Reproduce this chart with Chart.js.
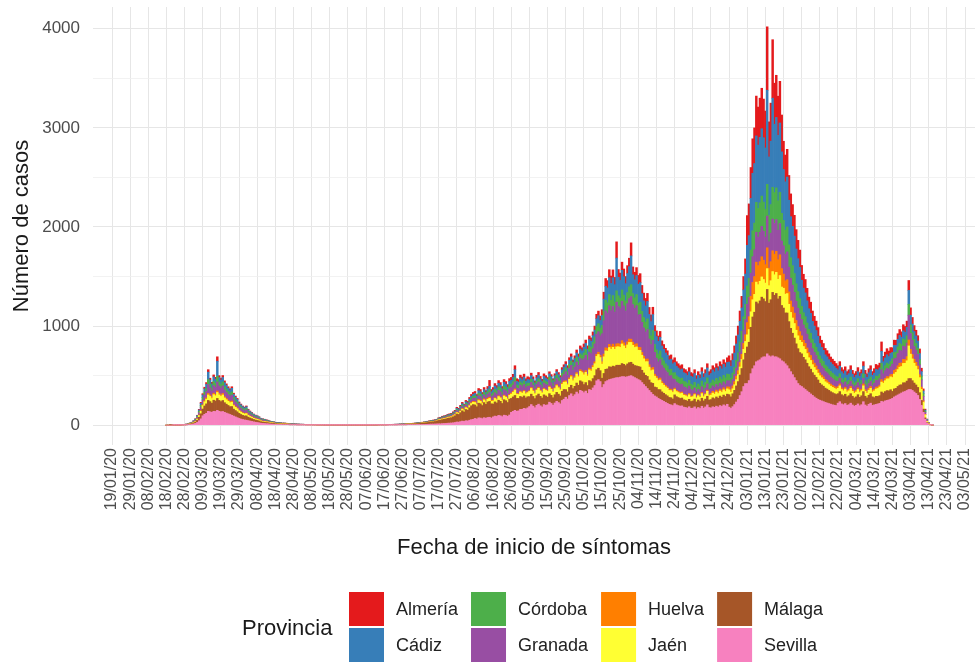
<!DOCTYPE html>
<html>
<head>
<meta charset="utf-8">
<script src="https://cdn.jsdelivr.net/npm/chart.js@4/dist/chart.umd.min.js"></script>
<style>
  html, body { margin: 0; padding: 0; background: #fff; }
  #chart { display: block; }
</style>
</head>
<body>
<canvas id="chart" width="975" height="662" style="width:975px;height:662px"></canvas>
<script>
// Axis range and tick labels (one every 10 days)
const firstDay = '09/01/20';
const lastDay = '08/05/21';
const dataStart = '18/02/20';
const tickLabels = [
    '19/01/20','29/01/20','08/02/20','18/02/20','28/02/20','09/03/20','19/03/20','29/03/20','08/04/20','18/04/20',
    '28/04/20','08/05/20','18/05/20','28/05/20','07/06/20','17/06/20','27/06/20','07/07/20','17/07/20','27/07/20',
    '06/08/20','16/08/20','26/08/20','05/09/20','15/09/20','25/09/20','05/10/20','15/10/20','25/10/20','04/11/20',
    '14/11/20','24/11/20','04/12/20','14/12/20','24/12/20','03/01/21','13/01/21','23/01/21','02/02/21','12/02/21',
    '22/02/21','04/03/21','14/03/21','24/03/21','03/04/21','13/04/21','23/04/21','03/05/21'
];
const yTicks = [0, 500, 1000, 1500, 2000, 2500, 3000, 3500, 4000];

// Daily cases by symptom onset, one row = 10 days starting 18/02/20
const sevilla = [
    0,0,0,0,1,1,1,1,2,2,
    2,3,5,6,9,13,18,28,45,64,
    95,110,120,140,135,130,140,138,150,140,
    135,138,130,122,115,108,100,92,84,76,
    68,62,57,53,50,46,42,38,34,30,
    27,24,20,18,17,15,14,12,11,10,
    8,8,7,7,6,6,6,5,4,4,
    4,4,3,3,3,3,3,2,2,2,
    2,2,2,2,1,2,1,1,1,1,
    1,1,1,1,1,1,1,1,1,1,
    1,1,1,1,1,1,1,1,1,1,
    1,1,1,1,1,2,2,2,2,2,
    2,2,2,3,3,3,3,3,4,4,
    4,4,4,5,5,5,6,6,7,7,
    6,7,7,8,9,10,11,11,12,13,
    14,14,16,17,18,20,21,22,24,27,
    32,31,36,41,38,45,43,50,56,59,
    68,62,74,72,66,76,70,78,80,72,
    84,92,88,99,95,86,101,97,90,103,
    130,140,150,140,145,160,160,170,165,175,
    188,208,192,176,200,212,196,184,208,200,
    206,232,219,202,224,241,228,215,249,262,
    282,264,299,317,290,308,334,317,352,343,
    328,344,320,360,352,376,400,448,460,440,
    380,410,440,450,460,465,470,475,480,480,
    485,490,490,485,490,495,500,490,480,470,
    460,450,430,410,390,370,350,330,310,295,
    285,270,260,250,240,230,220,210,205,198,
    218,205,198,192,195,182,179,173,186,170,
    172,185,165,178,168,191,172,185,205,178,
    174,186,180,192,183,198,189,205,195,211,
    182,169,187,208,234,260,299,338,390,420,
    420,450,520,570,600,640,650,660,680,690,
    690,720,700,690,700,690,690,680,670,650,
    640,620,600,570,540,510,480,450,420,400,
    390,375,360,345,330,315,300,285,272,260,
    252,245,238,230,224,218,212,206,202,198,
    222,237,215,207,218,200,207,222,204,192,
    200,215,196,207,237,204,192,211,222,200,
    205,210,215,220,240,235,245,250,255,262,
    270,285,295,305,315,325,335,340,350,360,
    360,350,335,320,300,260,200,130,60,22,
    8,3,1
];
const malaga = [
    0,0,1,0,0,1,1,1,1,2,
    2,3,3,5,7,10,14,22,35,51,
    68,84,95,110,103,92,112,106,120,110,
    103,111,97,90,84,79,88,70,64,59,
    51,46,42,40,44,35,31,28,24,22,
    21,19,15,14,13,12,11,9,8,8,
    7,6,6,5,5,5,4,4,4,3,
    3,3,3,3,2,2,2,2,2,2,
    2,2,1,1,1,1,1,1,1,1,
    1,1,1,1,1,1,1,1,1,1,
    1,1,1,0,1,1,0,1,1,0,
    1,1,1,1,1,1,1,2,2,2,
    2,2,3,3,3,3,4,4,4,5,
    5,5,6,6,6,7,7,8,9,10,
    13,13,15,16,18,20,22,23,25,27,
    34,36,40,43,45,50,52,54,61,68,
    81,77,90,104,95,113,108,126,140,149,
    136,124,148,144,132,152,140,156,160,144,
    129,143,136,153,146,133,156,150,139,160,
    140,145,150,130,125,130,120,125,110,112,
    100,105,98,92,98,102,95,90,98,95,
    77,86,82,75,83,90,85,80,93,98,
    77,72,82,86,79,84,91,86,96,94,
    82,86,80,90,88,94,100,112,115,110,
    94,112,124,118,130,120,126,116,125,125,
    120,132,124,116,128,136,135,126,122,128,
    133,137,124,117,113,122,106,99,112,90,
    95,90,98,86,82,78,76,70,72,66,
    88,83,81,78,79,74,73,70,75,69,
    73,78,70,76,71,81,73,78,87,76,
    84,90,87,93,89,96,92,99,95,102,
    126,117,130,144,162,180,207,234,270,306,
    369,387,468,522,540,603,576,594,612,585,
    558,650,531,576,640,621,639,594,630,558,
    542,513,532,475,437,418,399,371,352,333,
    330,310,300,280,260,250,230,220,210,196,
    171,162,155,144,140,133,126,122,117,112,
    96,102,93,90,94,86,90,96,88,83,
    86,93,85,90,102,88,83,91,96,86,
    73,81,75,78,95,88,94,99,91,96,
    71,81,77,86,90,83,93,88,95,110,
    111,99,90,86,81,68,50,32,14,5,
    2,1,0
];
const jaen = [
    0,0,0,0,0,0,0,0,0,0,
    1,1,2,2,3,5,7,11,18,25,
    34,42,47,55,52,46,56,53,60,55,
    52,56,48,45,42,40,44,35,32,30,
    25,23,21,20,22,18,15,14,12,11,
    10,9,8,7,7,6,6,5,4,4,
    3,3,3,3,2,2,2,2,2,2,
    2,1,1,1,1,1,1,1,1,1,
    1,0,1,0,1,0,1,0,1,0,
    0,0,0,0,0,0,0,0,0,0,
    0,0,0,0,0,0,0,0,0,0,
    0,0,0,0,0,0,0,0,0,0,
    0,0,0,0,0,0,0,0,0,0,
    0,0,1,1,1,1,1,1,1,1,
    1,2,2,2,2,2,2,3,3,3,
    5,6,6,7,7,8,8,8,9,10,
    13,12,14,16,15,18,17,20,22,23,
    24,22,26,25,23,27,25,27,30,25,
    30,34,32,36,34,31,37,35,33,38,
    43,47,54,41,39,44,42,45,40,41,
    52,57,53,48,55,58,54,51,57,55,
    58,65,61,56,62,67,64,60,70,73,
    77,72,82,86,79,84,91,86,96,94,
    98,103,96,108,106,113,120,134,138,132,
    142,168,186,178,194,180,190,174,185,187,
    180,198,186,174,192,204,200,190,182,192,
    163,167,152,143,138,149,130,121,136,110,
    95,90,98,86,82,78,76,70,72,66,
    54,51,50,48,49,46,45,43,46,42,
    42,45,40,43,41,46,42,45,50,43,
    45,48,46,50,47,51,49,53,50,54,
    49,46,50,56,63,70,81,91,105,119,
    123,129,156,174,180,201,192,198,204,195,
    186,210,177,192,210,207,213,198,210,186,
    200,189,196,175,161,154,147,137,130,123,
    116,109,105,98,91,88,81,77,74,69,
    76,72,69,64,62,59,56,54,52,50,
    54,58,52,50,53,49,50,54,50,47,
    49,52,48,50,58,50,47,51,54,49,
    67,74,80,88,100,100,110,118,122,130,
    140,150,160,170,180,184,195,196,205,330,
    246,220,200,190,180,152,112,70,30,12,
    5,2,0
];
const huelva = [
    0,0,0,0,0,0,0,0,0,0,
    0,0,0,1,1,1,2,3,5,7,
    9,11,13,15,14,13,15,14,15,15,
    14,15,13,12,11,11,12,10,9,8,
    7,6,6,5,6,5,4,4,3,3,
    3,3,2,2,2,2,1,1,1,1,
    1,1,1,1,1,1,1,0,0,0,
    0,0,0,0,0,0,0,0,0,0,
    0,0,0,0,0,0,0,0,0,0,
    0,0,0,0,0,0,0,0,0,0,
    0,0,0,0,0,0,0,0,0,0,
    0,0,0,0,0,0,0,0,0,0,
    0,0,0,0,0,0,0,0,0,0,
    0,0,0,0,0,0,0,0,0,1,
    1,1,1,1,1,1,1,1,1,1,
    2,2,3,3,3,3,3,4,4,5,
    5,5,6,7,6,8,7,8,9,10,
    10,9,11,11,10,11,11,12,13,11,
    8,8,8,9,9,8,9,9,8,9,
    10,10,12,9,9,10,9,10,9,9,
    9,10,10,9,10,11,10,9,10,10,
    10,11,10,9,10,11,11,10,12,12,
    13,12,14,14,13,14,15,14,16,16,
    16,17,16,18,18,19,20,22,23,22,
    24,28,31,30,32,30,32,29,31,31,
    30,33,31,29,32,34,33,32,30,32,
    30,30,28,26,25,27,24,22,25,20,
    19,18,20,17,16,16,15,14,14,13,
    14,13,12,12,12,11,11,11,12,11,
    10,11,10,11,10,12,10,11,12,11,
    17,18,17,19,18,19,18,20,19,20,
    28,26,29,32,36,40,46,52,60,68,
    123,129,156,174,180,201,192,198,204,195,
    186,210,177,192,210,207,213,198,210,186,
    143,135,140,125,115,110,105,98,93,88,
    66,62,60,56,52,50,46,44,42,39,
    29,27,26,24,23,22,21,20,20,19,
    18,19,17,17,18,16,17,18,17,16,
    16,17,16,17,19,17,16,17,18,16,
    17,19,17,18,25,20,22,23,21,22,
    32,36,34,38,40,37,41,39,42,60,
    49,44,40,38,36,30,22,14,6,2,
    1,0,0
];
const granada = [
    0,0,0,1,1,0,1,1,1,1,
    1,2,3,4,5,7,10,15,24,35,
    47,57,65,90,71,63,77,72,90,75,
    70,76,66,62,57,54,60,48,44,40,
    35,32,29,27,30,24,21,19,17,15,
    14,13,10,10,9,8,8,6,6,5,
    5,4,4,4,3,4,3,3,2,2,
    2,2,2,2,2,2,1,1,1,1,
    1,1,1,1,1,1,1,1,0,1,
    1,1,0,1,0,1,0,0,1,0,
    0,1,0,0,1,0,0,0,0,1,
    0,0,0,1,0,0,1,0,1,0,
    1,1,1,1,1,1,1,1,1,1,
    1,2,1,2,2,2,2,2,2,2,
    2,2,3,3,3,4,4,4,5,5,
    7,7,8,9,9,10,10,11,12,14,
    16,15,18,21,19,22,22,25,28,30,
    34,31,37,36,33,38,35,39,45,36,
    46,50,48,54,52,47,55,53,49,56,
    58,62,72,54,52,59,56,60,53,55,
    47,52,48,44,50,53,49,46,52,50,
    53,59,56,52,57,62,58,55,64,67,
    90,84,95,101,92,98,106,101,112,109,
    148,155,144,162,158,169,180,202,207,198,
    283,336,372,355,389,360,379,348,420,374,
    360,396,372,348,384,408,430,379,365,384,
    326,334,304,286,275,297,260,242,273,220,
    181,171,186,163,156,148,144,133,137,125,
    88,83,81,78,79,74,73,70,75,69,
    52,56,50,54,51,58,52,56,62,54,
    50,54,52,56,53,58,55,59,57,61,
    63,59,65,72,81,90,104,117,135,153,
    185,194,234,261,270,302,288,297,306,293,
    279,320,266,288,320,311,320,297,315,279,
    285,270,280,250,230,220,210,195,185,175,
    165,155,150,140,130,125,115,110,105,98,
    95,90,86,80,78,74,70,68,65,62,
    54,58,52,50,53,49,50,54,50,47,
    49,52,48,50,58,50,47,51,54,49,
    62,68,64,66,100,75,79,84,77,81,
    103,117,111,124,130,120,134,127,137,250,
    160,143,130,124,117,99,73,46,20,8,
    3,1,1
];
const cordoba = [
    0,0,0,0,0,0,0,0,1,0,
    1,1,1,2,2,4,5,8,13,18,
    25,30,34,50,38,34,41,38,60,40,
    38,40,35,33,30,29,32,26,23,22,
    18,17,15,14,16,13,11,10,9,8,
    8,7,6,5,5,4,4,3,3,3,
    2,2,2,2,2,2,2,1,1,1,
    1,1,1,1,1,1,1,1,1,0,
    0,1,0,1,0,1,0,0,1,0,
    0,0,1,0,0,0,1,0,0,0,
    0,0,0,1,0,0,1,0,0,0,
    0,0,1,0,1,0,0,1,0,1,
    0,1,0,1,0,1,1,1,1,1,
    1,1,1,1,1,1,1,2,2,2,
    2,2,2,2,2,3,3,3,3,4,
    5,5,5,6,6,7,7,7,8,9,
    11,10,12,14,13,15,14,17,19,20,
    24,22,26,25,23,27,25,27,32,25,
    30,34,32,36,34,31,37,35,33,38,
    34,36,42,32,30,34,33,35,31,32,
    28,31,29,26,30,32,29,28,31,30,
    29,32,31,28,31,34,32,30,35,37,
    38,36,41,43,40,42,46,43,48,47,
    57,60,56,63,62,66,70,78,81,77,
    83,98,109,104,113,105,111,102,115,109,
    105,116,109,102,112,119,120,111,106,112,
    118,122,110,104,100,108,94,88,99,80,
    86,81,88,77,74,70,68,63,65,59,
    68,64,62,60,61,57,56,54,58,53,
    52,56,50,54,51,58,52,56,62,54,
    56,60,58,62,59,64,61,66,63,68,
    63,59,65,72,81,90,104,117,135,153,
    185,194,234,261,270,302,288,297,306,293,
    279,320,266,288,320,311,320,297,315,279,
    257,243,252,225,207,198,189,176,167,158,
    132,124,120,112,104,100,92,88,84,78,
    76,72,69,64,62,59,56,54,52,50,
    42,45,41,39,41,38,39,42,39,36,
    38,41,37,39,45,39,36,40,42,38,
    39,43,41,42,65,48,50,53,49,52,
    55,63,60,67,70,64,72,69,74,110,
    86,77,70,67,63,53,39,25,11,4,
    2,0,0
];
const cadiz = [
    0,0,0,0,0,0,0,0,0,1,
    1,1,1,2,2,4,6,9,14,21,
    28,34,39,75,42,38,46,43,150,45,
    42,45,40,37,34,32,36,29,26,24,
    21,19,17,16,18,14,13,11,10,9,
    9,7,6,6,5,5,4,4,3,3,
    3,3,2,1,2,1,1,2,2,2,
    1,1,1,1,1,1,1,1,1,1,
    1,0,1,0,1,0,1,1,0,1,
    1,1,0,0,1,0,0,1,0,1,
    1,0,0,0,0,0,0,0,0,0,
    0,0,0,0,0,1,0,0,0,0,
    1,0,1,0,1,1,1,1,1,1,
    1,1,1,1,1,1,2,2,2,2,
    2,2,2,2,3,3,3,4,4,4,
    4,5,6,5,6,6,7,7,8,9,
    11,10,12,14,12,15,15,17,18,19,
    24,22,26,25,23,27,24,27,32,25,
    30,34,32,36,34,31,37,35,33,38,
    38,42,80,36,34,39,38,40,35,37,
    33,36,34,31,35,37,34,32,36,35,
    29,32,31,28,31,34,32,30,35,37,
    38,36,41,43,40,42,46,43,48,47,
    57,60,56,63,62,66,70,78,81,77,
    100,120,140,150,170,170,180,174,330,187,
    180,198,186,174,192,204,290,190,182,192,
    192,198,179,169,163,176,153,143,161,130,
    133,126,137,120,115,109,106,98,101,92,
    102,96,93,90,92,86,84,81,87,80,
    83,90,80,86,82,93,83,90,99,86,
    95,102,99,105,100,109,104,112,107,116,
    126,117,130,144,162,180,207,234,270,306,
    410,430,520,580,600,670,640,660,680,650,
    620,950,590,640,900,690,710,660,700,620,
    513,486,504,450,414,396,378,351,333,315,
    264,248,240,224,208,200,184,176,168,157,
    124,117,112,104,101,96,91,88,85,81,
    72,77,70,67,71,65,67,72,66,62,
    65,70,64,67,77,66,62,68,72,65,
    62,68,64,66,120,75,79,84,77,81,
    63,72,68,76,80,74,82,78,84,140,
    98,88,80,76,72,61,45,28,12,5,
    2,1,0
];
const almeria = [
    0,0,0,0,0,0,0,0,0,0,
    0,1,1,0,1,1,3,4,6,9,
    12,15,17,25,19,17,20,19,45,20,
    19,20,18,16,15,14,16,13,12,11,
    9,8,7,8,8,6,6,4,4,4,
    3,3,3,3,2,3,2,2,2,1,
    1,1,1,1,1,1,1,1,1,1,
    1,1,1,0,0,0,0,0,0,0,
    0,0,0,0,0,0,0,0,0,0,
    0,0,0,0,0,0,0,0,0,0,
    0,0,0,0,0,0,0,0,0,0,
    0,0,0,0,0,0,0,0,0,0,
    0,0,0,0,0,0,0,0,0,0,
    1,1,1,1,1,1,1,1,1,1,
    1,1,1,2,2,2,2,3,3,3,
    4,5,6,5,6,6,7,7,9,8,
    11,10,12,13,12,14,14,17,18,20,
    20,18,22,22,20,22,20,24,60,22,
    23,25,24,27,26,23,28,26,25,28,
    29,31,40,27,26,29,28,30,26,28,
    24,26,24,22,25,27,25,23,26,25,
    19,22,20,19,21,22,21,20,23,24,
    26,24,27,29,26,28,30,29,32,31,
    33,34,32,36,35,38,40,45,46,44,
    59,70,78,74,81,75,79,73,164,78,
    75,82,78,72,80,85,132,79,76,80,
    89,91,83,78,75,81,71,66,74,60,
    57,54,59,52,49,47,46,42,43,40,
    48,45,43,42,43,40,39,38,41,37,
    36,39,35,38,36,41,36,39,43,38,
    39,42,41,43,41,45,43,46,44,48,
    63,59,65,72,81,90,104,117,135,153,
    300,320,312,348,360,402,384,396,408,390,
    372,640,354,384,590,414,426,396,420,372,
    285,270,280,250,230,220,210,195,185,175,
    149,140,135,126,117,113,104,99,95,88,
    76,72,69,64,62,59,56,54,52,50,
    42,45,41,39,41,38,39,42,39,36,
    38,41,37,39,45,39,36,40,42,38,
    45,50,46,48,95,54,58,61,56,59,
    47,54,51,57,60,55,62,59,63,100,
    74,66,60,57,54,46,34,21,9,4,
    2,0,0
];

// Stack order bottom -> top, Set1 palette
const provinces = ['Sevilla', 'Málaga', 'Jaén', 'Huelva', 'Granada', 'Córdoba', 'Cádiz', 'Almería'];
const series = [sevilla, malaga, jaen, huelva, granada, cordoba, cadiz, almeria];
const colors = ['#F781BF', '#A65628', '#FFFF33', '#FF7F00', '#984EA3', '#4DAF4A', '#377EB8', '#E41A1C'];

Chart.defaults.font.family = "'Liberation Sans', Arial, Helvetica, sans-serif";
Chart.defaults.color = '#4d4d4d';

function parseDay(s) {
    const [d, m, y] = s.split('/').map(Number);
    return Date.UTC(2000 + y, m - 1, d);
}
function formatDay(t) {
    const d = new Date(t);
    const dd = String(d.getUTCDate()).padStart(2, '0');
    const mm = String(d.getUTCMonth() + 1).padStart(2, '0');
    return dd + '/' + mm + '/' + String(d.getUTCFullYear()).slice(2);
}

// one category per day
const days = [];
for (let t = parseDay(firstDay); t <= parseDay(lastDay); t += 86400000) days.push(formatDay(t));
const startIdx = days.indexOf(dataStart);
const tickSet = new Set(tickLabels);

const datasets = provinces.map((name, i) => ({
    label: name,
    data: new Array(startIdx).fill(null).concat(series[i]),
    backgroundColor: colors[i],
    borderWidth: 0,
    barPercentage: 1,
    categoryPercentage: 1
}));

// ggplot-like legend at the bottom, two rows, column-major
const provinciaLegend = {
    id: 'provinciaLegend',
    afterDraw(chart) {
        const ctx = chart.ctx;
        const sets = chart.data.datasets.slice().reverse();
        ctx.save();
        ctx.textBaseline = 'middle';
        ctx.textAlign = 'left';
        ctx.fillStyle = '#1a1a1a';
        ctx.font = "22px 'Liberation Sans', Arial, sans-serif";
        ctx.fillText('Provincia', 242, 629);
        ctx.font = "18px 'Liberation Sans', Arial, sans-serif";
        let x = 349;
        for (let c = 0; c < sets.length / 2; c++) {
            let w = 0;
            for (let r = 0; r < 2; r++) {
                const ds = sets[c * 2 + r];
                const y = 592 + r * 36;
                ctx.fillStyle = ds.backgroundColor;
                ctx.fillRect(x, y, 35, 34);
                ctx.fillStyle = '#222';
                ctx.fillText(ds.label, x + 47, y + 18);
                w = Math.max(w, ctx.measureText(ds.label).width);
            }
            x += 47 + w + 13;
        }
        ctx.restore();
    }
};

new Chart(document.getElementById('chart'), {
    type: 'bar',
    data: { labels: days, datasets },
    plugins: [provinciaLegend],
    options: {
        responsive: false,
        animation: false,
        layout: { padding: { top: 7, right: 0, left: 0, bottom: 0 } },
        plugins: {
            legend: { display: false },
            tooltip: { enabled: false }
        },
        scales: {
            x: {
                stacked: true,
                offset: true,
                border: { display: false },
                grid: {
                    offset: false,
                    drawTicks: false,
                    lineWidth: 1,
                    color: ctx => tickSet.has(days[ctx.index]) ? '#e6e6e6' : 'rgba(0,0,0,0)'
                },
                ticks: {
                    autoSkip: false,
                    maxRotation: 90,
                    minRotation: 90,
                    padding: 3,
                    color: '#4d4d4d',
                    font: { size: 16 },
                    callback: (v, i) => tickSet.has(days[i]) ? days[i] : ''
                },
                title: {
                    display: true,
                    text: 'Fecha de inicio de síntomas',
                    color: '#1a1a1a',
                    font: { size: 22 },
                    padding: { top: 0, bottom: 101 }
                },
                afterFit: s => { s.height = 217; s.paddingLeft = 0; s.paddingRight = 0; }
            },
            y: {
                stacked: true,
                min: -200,
                max: 4220,
                border: { display: false },
                afterBuildTicks: s => { s.ticks = yTicks.map(v => ({ value: v })); },
                grid: {
                    drawTicks: false,
                    color: ctx => ctx.tick && ctx.tick.value % 1000 === 0 ? '#e6e6e6' : '#efefef',
                    lineWidth: ctx => ctx.tick && ctx.tick.value % 1000 === 0 ? 1.1 : 0.8
                },
                ticks: {
                    padding: 13,
                    color: '#4d4d4d',
                    font: { size: 17 },
                    callback: v => v % 1000 === 0 ? v : ''
                },
                title: {
                    display: true,
                    text: 'Número de casos',
                    color: '#1a1a1a',
                    font: { size: 22 },
                    padding: { top: 9, bottom: 0 }
                },
                afterFit: s => { s.width = 93; s.paddingTop = 0; s.paddingBottom = 0; }
            }
        }
    }
});
</script>
</body>
</html>
